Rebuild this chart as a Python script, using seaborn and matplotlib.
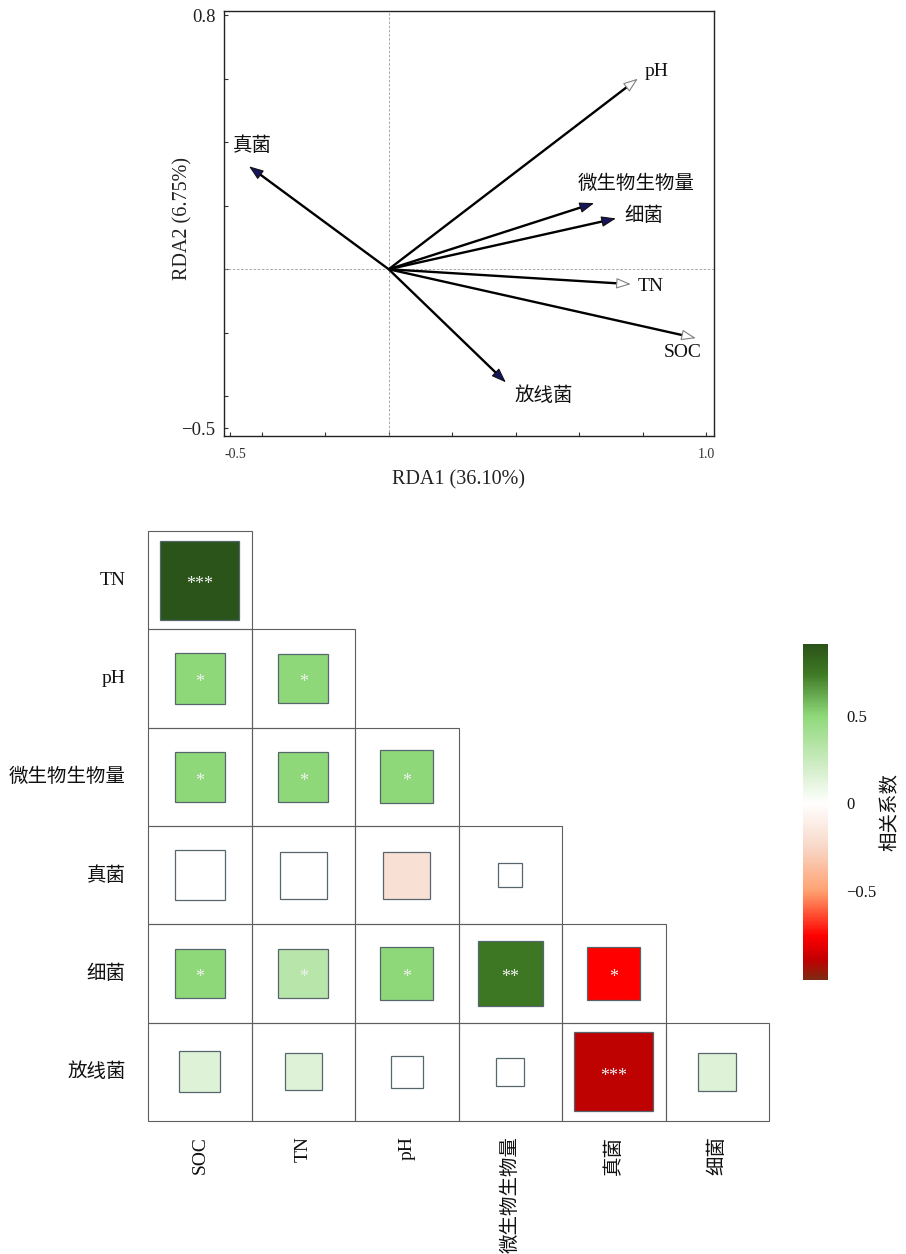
import numpy as np
import pandas as pd
import matplotlib
matplotlib.use("Agg")
import matplotlib.pyplot as plt
import seaborn as sns
from matplotlib.colors import LinearSegmentedColormap, ListedColormap, Normalize
from matplotlib.patches import Rectangle, ArrowStyle
from matplotlib.cm import ScalarMappable
from matplotlib.transforms import ScaledTranslation

# ---------------- RDA biplot data ----------------
rda_vars = ["pH", "真菌", "微生物生物量", "细菌", "TN", "SOC", "放线菌"]
rda1 = [0.785, -0.440, 0.647, 0.716, 0.763, 0.968, 0.369]
rda2 = [0.600, 0.324, 0.208, 0.160, -0.047, -0.217, -0.356]
rda_is_env = [True, False, False, False, True, True, False]
rda1_title = "RDA1 (36.10%)"
rda2_title = "RDA2 (6.75%)"

# ---------------- correlation matrix data ----------------
row_vars = ["TN", "pH", "微生物生物量", "真菌", "细菌", "放线菌"]
col_vars = ["SOC", "TN", "pH", "微生物生物量", "真菌", "细菌"]
corr_r = [
    [0.90],
    [0.50, 0.50],
    [0.50, 0.50, 0.50],
    [0.00, 0.00, -0.20, 0.00],
    [0.50, 0.32, 0.50, 0.75, -0.76],
    [0.15, 0.15, 0.00, 0.00, -0.90, 0.15],
]
box_scale = [
    [0.763],
    [0.486, 0.480],
    [0.486, 0.480, 0.515],
    [0.486, 0.454, 0.451, 0.235],
    [0.483, 0.480, 0.515, 0.628, 0.515],
    [0.396, 0.360, 0.306, 0.268, 0.763, 0.364],
]
signif = [
    ["***"],
    ["*", "*"],
    ["*", "*", "*"],
    ["", "", "", ""],
    ["*", "*", "*", "**", "*"],
    ["", "", "", "", "***", ""],
]
cbar_title = "相关系数"

# ---------------- style ----------------
sns.set_style("white")
plt.rcParams["font.family"] = ["Liberation Serif", "Noto Sans CJK SC"]
plt.rcParams["axes.unicode_minus"] = True

fig = plt.figure(figsize=(9.06, 12.54), dpi=100)
W, H = 906, 1254

def frac(x0, y0, x1, y1):
    return [x0 / W, 1 - y1 / H, (x1 - x0) / W, (y1 - y0) / H]

# ================= RDA biplot =================
ax = fig.add_axes(frac(224, 11, 714, 436))
ax.set_xlim(-0.519, 1.025)
ax.set_ylim(-0.525, 0.813)
for sp in ax.spines.values():
    sp.set_color("#222222")
    sp.set_linewidth(1.0)
ax.axhline(0, color="#9a9a9a", lw=0.6, ls=(0, (3, 2)), zorder=1)
ax.axvline(0, color="#9a9a9a", lw=0.6, ls=(0, (3, 2)), zorder=1)

ax.set_xticks([-0.5, 1.0])
ax.set_xticklabels(["-0.5", "1.0"], fontsize=10, color="#333333")
ax.set_xticks([-0.4, -0.2, 0, 0.2, 0.4, 0.6, 0.8], minor=True)
ax.set_yticks([-0.5, 0.8])
ax.set_yticklabels(["\u22120.5", "0.8"], fontsize=13.5, color="#222222")
ax.set_yticks([-0.4, -0.2, 0, 0.2, 0.4, 0.6], minor=True)
ax.tick_params(axis="both", which="both", direction="in", length=3, width=0.8,
               color="#333333", left=True, bottom=True)
ax.tick_params(axis="x", which="major", pad=9)
ax.tick_params(axis="y", which="major", pad=6)
# nudge the left x tick label slightly to the right
lbl0 = ax.get_xticklabels()[0]
lbl0.set_transform(lbl0.get_transform() + ScaledTranslation(5 / 100, 0, fig.dpi_scale_trans))
ax.set_xlabel(rda1_title, fontsize=14.5, color="#222222")
ax.set_ylabel(rda2_title, fontsize=14.5, color="#222222")
ax.xaxis.set_label_coords((459 - 224) / 490, -(480 - 436) / 425, transform=ax.transAxes)
ax.xaxis.label.set_va("center")
ax.yaxis.set_label_coords(-(224 - 183) / 490, (436 - 218) / 425, transform=ax.transAxes)
ax.yaxis.label.set_va("center")

# label placement relative to the arrow tip (pixels: dx right, dy up)
label_offset_px = {
    "pH": (7, 7), "真菌": (-16, 21), "微生物生物量": (-16, 19), "细菌": (8, 3),
    "TN": (7, -2), "SOC": (-32, -14), "放线菌": (9, -13),
}
head_len_px = 12.5
head_style = ArrowStyle("-|>", head_length=0.9, head_width=0.33)
fig.canvas.draw()
o_disp = ax.transData.transform((0, 0))
inv = ax.transData.inverted()
for name, x, y, env in zip(rda_vars, rda1, rda2, rda_is_env):
    tip = ax.transData.transform((x, y))
    d = tip - o_disp
    d = d / np.hypot(*d)
    base = inv.transform(tip - d * head_len_px)
    ax.plot([0, base[0]], [0, base[1]], color="black", lw=1.7,
            solid_capstyle="butt", zorder=3)
    if env:
        fc, ec, lw = "white", "#808080", 0.8
    else:
        fc, ec, lw = "#16165c", "#111111", 0.8
    ax.annotate("", xy=(x, y), xytext=(base[0], base[1]),
                arrowprops=dict(arrowstyle=head_style, fc=fc, ec=ec, lw=lw,
                                shrinkA=0, shrinkB=0, mutation_scale=10),
                zorder=4)
    dx, dy = label_offset_px[name]
    ax.annotate(name, xy=(x, y), xytext=(dx * 0.72, dy * 0.72),
                textcoords="offset points", ha="left", va="center",
                fontsize=14, color="#111111", zorder=5)

# ================= correlation matrix =================
anchors = [
    (-1.01, "#7d2b12"), (-0.90, "#c00000"), (-0.76, "#ff0000"),
    (-0.62, "#ff5a3a"), (-0.50, "#ffa272"), (-0.25, "#f8d8c8"),
    (0.00, "#ffffff"), (0.22, "#cfecc4"), (0.50, "#8fd97a"),
    (0.74, "#3f7a25"), (0.91, "#2a5219"),
]
vmin, vmax = anchors[0][0], anchors[-1][0]
cmap = LinearSegmentedColormap.from_list(
    "corr", [((v - vmin) / (vmax - vmin), c) for v, c in anchors])
norm = Normalize(vmin=vmin, vmax=vmax)

hx0, hy0, hx1, hy1 = 148, 531, 769, 1121
axh = fig.add_axes(frac(hx0, hy0, hx1, hy1))
n_r, n_c = len(row_vars), len(col_vars)
grid = pd.DataFrame(np.zeros((n_r, n_c)), index=row_vars, columns=col_vars)
mask = np.triu(np.ones((n_r, n_c), dtype=bool), k=1)
sns.heatmap(grid, mask=mask, cmap=ListedColormap(["white"]), vmin=-1, vmax=1,
            cbar=False, linewidths=0, ax=axh,
            xticklabels=col_vars, yticklabels=row_vars)

cell_w = (hx1 - hx0) / n_c
cell_h = (hy1 - hy0) / n_r
for i, row in enumerate(corr_r):
    for j, val in enumerate(row):
        # cell frame of the lower triangle
        axh.add_patch(Rectangle((j, i), 1, 1, fill=False, edgecolor="#5e5e5e",
                                lw=0.8, zorder=2, clip_on=False))
        s = box_scale[i][j]
        w = s
        h = s * cell_w / cell_h
        axh.add_patch(Rectangle((j + 0.5 - w / 2, i + 0.5 - h / 2), w, h,
                                facecolor=cmap(norm(val)), edgecolor="#56666c",
                                lw=0.9, zorder=3))
        star = signif[i][j]
        if star:
            axh.annotate(star, xy=(j + 0.5, i + 0.5), xytext=(0, -6.4),
                         textcoords="offset points", ha="center", va="baseline",
                         fontsize=13, color="#f2f2f2", zorder=4,
                         family="Liberation Serif")

axh.tick_params(axis="both", length=0, labelsize=14)
axh.tick_params(axis="y", pad=16)
axh.tick_params(axis="x", pad=11)
plt.setp(axh.get_yticklabels(), rotation=0, ha="right", color="#111111")
plt.setp(axh.get_xticklabels(), rotation=90, color="#111111")

# ---------------- colour bar ----------------
cax = fig.add_axes(frac(803, 644, 828, 980))
cb = fig.colorbar(ScalarMappable(norm=norm, cmap=cmap), cax=cax)
cb.outline.set_visible(False)
cb.set_ticks([-0.5, 0, 0.5])
cb.set_ticklabels(["\u22120.5", "0", "0.5"])
cax.tick_params(direction="in", color="white", length=7.5, width=1.6,
                pad=13, labelsize=12, labelcolor="#111111")
cb.set_label(cbar_title, rotation=90, fontsize=14, labelpad=4, color="#111111")

fig.savefig("out.png", dpi=100)
